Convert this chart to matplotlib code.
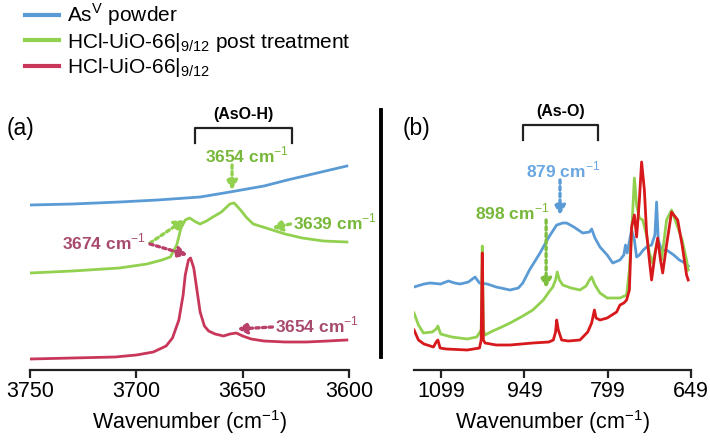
import numpy as np
import matplotlib
matplotlib.use("Agg")
import matplotlib.pyplot as plt
from matplotlib.lines import Line2D

plt.rcParams['font.family'] = ['Liberation Sans', 'DejaVu Sans']
plt.rcParams['mathtext.fontset'] = 'custom'
plt.rcParams['mathtext.rm'] = 'Liberation Sans'
plt.rcParams['mathtext.bf'] = 'Liberation Sans:bold'

# ---- data (a): O-H region, intensity in arbitrary offset units
wn_a_blue = [3750, 3730, 3708, 3690, 3670, 3656, 3640, 3629, 3615, 3601]
y_a_blue = [165, 166, 168, 170, 173, 178, 184, 190, 197, 204]

wn_a_green = [3750, 3730, 3708, 3695, 3688, 3684, 3681, 3679, 3677, 3675, 3672, 3670, 3667,
              3664, 3660, 3656, 3654, 3651, 3648, 3645, 3642, 3636, 3630, 3622, 3612, 3601]
y_a_green = [97, 99, 102, 106, 110, 113, 125, 142, 150, 152, 148, 146, 149,
             153, 158, 166, 167, 160, 152, 146, 144, 140, 136, 132, 129, 128]

wn_a_red = [3750, 3730, 3710, 3700, 3692, 3686, 3683, 3680, 3678, 3677, 3675.5, 3674.5, 3673,
            3671.5, 3670, 3668, 3666, 3663, 3659, 3656, 3653, 3650, 3646, 3640, 3630, 3620, 3610, 3601]
y_a_red = [11, 12, 13, 15, 18, 24, 32, 50, 75, 95, 110, 112, 102,
           80, 58, 44, 39, 36, 34, 36, 37, 34, 31, 29, 28, 28, 29, 30]

# ---- data (b): As-O region
wn_b_blue = [1148, 1130, 1119, 1100, 1086, 1075, 1065, 1050, 1038, 1030, 1016, 1000, 975, 960,
             952, 940, 921, 905, 891, 880, 873, 860, 844, 832, 828, 822, 813, 800, 790, 777,
             770, 767, 764, 756, 751, 747, 742, 735, 729, 720, 714, 711, 708, 702, 693, 680,
             670, 660, 654]
y_b_blue = [83, 86, 87, 86, 89, 87, 86, 88, 93, 87, 86, 83, 80, 82,
            87, 100, 117, 133, 145, 147, 147, 143, 137, 138, 141, 132, 123, 115, 107, 110,
            115, 125, 117, 140, 130, 113, 115, 120, 123, 125, 135, 168, 130, 120, 120, 115,
            110, 107, 104]

wn_b_green = [1148, 1140, 1131, 1115, 1108, 1105, 1100, 1080, 1052, 1035, 1027, 1025, 1023, 1020,
              1010, 990, 975, 955, 934, 915, 905, 898, 893, 890, 886, 880, 865, 849, 838, 832,
              828, 822, 813, 800, 777, 765, 760, 756, 751, 747, 742, 736, 729, 724, 718, 709,
              702, 693, 684, 673, 665, 657, 654]
y_b_green = [57, 45, 37, 38, 41, 44, 36, 33, 31, 33, 40, 124, 40, 35,
             38, 43, 47, 53, 60, 70, 78, 83, 90, 98, 90, 85, 82, 80, 84, 90,
             93, 85, 77, 72, 72, 75, 100, 137, 192, 165, 152, 150, 135, 117, 107, 130,
             110, 150, 160, 143, 130, 110, 100]

wn_b_red = [1148, 1140, 1130, 1113, 1108, 1105, 1101, 1090, 1052, 1030, 1027, 1025, 1023, 1020,
            1000, 975, 934, 905, 897, 893, 891, 888, 882, 870, 849, 835, 828, 823, 820, 813,
            800, 783, 777, 770, 765, 760, 756, 751, 747, 742, 738, 733, 729, 724, 720, 714,
            709, 704, 700, 693, 684, 673, 665, 657, 654]
y_b_red = [40, 30, 26, 23, 28, 30, 22, 21, 20, 22, 30, 117, 30, 27,
           25, 25, 27, 28, 30, 38, 50, 40, 30, 29, 30, 38, 47, 60, 52, 50,
           52, 58, 65, 67, 70, 80, 143, 155, 133, 170, 208, 180, 137, 110, 90, 115,
           132, 110, 97, 125, 158, 150, 125, 95, 90]

labels = ["As$^{\\mathrm{V}}$ powder",
          "HCl-UiO-66|$_{\\mathrm{9/12}}$ post treatment",
          "HCl-UiO-66|$_{\\mathrm{9/12}}$"]
ticks_a = [3750, 3700, 3650, 3600]
ticks_b = [1099, 949, 799, 649]

blue = '#5b9bd5'
green = '#92d050'
red_a = '#c8375a'
red_b = '#d7191c'
txt_green = '#77b83a'
txt_red = '#a84a6e'
txt_blue = '#6aa7e0'

fig = plt.figure(figsize=(7.1, 4.44), dpi=100)
axa = fig.add_axes([30/710, 74/444, 319/710, 270/444])
axb = fig.add_axes([414/710, 74/444, 277/710, 270/444])

lw = 2.0
axa.plot(wn_a_blue, y_a_blue, color=blue, lw=lw)
axa.plot(wn_a_green, y_a_green, color=green, lw=lw)
axa.plot(wn_a_red, y_a_red, color=red_a, lw=lw)
axb.plot(wn_b_blue, y_b_blue, color=blue, lw=lw)
axb.plot(wn_b_green, y_b_green, color=green, lw=lw)
axb.plot(wn_b_red, y_b_red, color=red_b, lw=lw)

axa.set_xlim(3750, 3600)
axb.set_xlim(1148, 649)
for ax, tk in [(axa, ticks_a), (axb, ticks_b)]:
    ax.set_ylim(0, 270)
    ax.set_xticks(tk)
    ax.set_yticks([])
    ax.patch.set_alpha(0)
    for s in ['top', 'right', 'left']:
        ax.spines[s].set_visible(False)
    ax.spines['bottom'].set_linewidth(1.6)
    ax.spines['bottom'].set_color('#222222')
    ax.tick_params(axis='x', direction='out', length=6, width=1.6, color='#222222',
                   labelsize=15.5, pad=2)
    ax.set_xlabel("Wavenumber (cm$^{-1}$)", fontsize=15.5, labelpad=4)

# vertical separator line of panel (b)
axb.spines['left'].set_visible(True)
axb.spines['left'].set_position(('outward', 24))
axb.spines['left'].set_bounds(13, 260)
axb.spines['left'].set_linewidth(2.8)
axb.spines['left'].set_color('black')

# legend
handles = [Line2D([], [], color=c, lw=3) for c in [blue, green, red_a]]
fig.legend(handles, labels, loc='upper left', bbox_to_anchor=(0.024, 1.015), frameon=False,
           fontsize=15, handlelength=1.6, handletextpad=0.4, labelspacing=0.12,
           borderaxespad=0)

fig.text(20/710, 1 - 128/444, "(a)", fontsize=16.5, ha='center', va='center')
fig.text(416/710, 1 - 128/444, "(b)", fontsize=16.5, ha='center', va='center')

# bracket annotations
def bracket(ax, x0, x1, y, label):
    ax.plot([x0, x0, x1, x1], [y - 15, y, y, y - 15], color='#222222', lw=1.6, clip_on=False)
    ax.text((x0 + x1) / 2, y + 6, label, fontsize=11.5, fontweight='bold',
            ha='center', va='bottom')

bracket(axa, 3672.4, 3626.8, 242, "(AsO-H)")
bracket(axb, 952, 817, 245, "(As-O)")

def arrow(ax, xy_from, xy_to, color):
    ax.annotate("", xy=xy_to, xytext=xy_from,
                arrowprops=dict(arrowstyle='-|>,head_length=0.55,head_width=0.32',
                                color=color, lw=2.4, linestyle=(0, (1, 1)),
                                shrinkA=0, shrinkB=0))

tfs = 12.5
axa.text(3648, 215, "3654 cm$^{-1}$", color=txt_green, fontsize=tfs, fontweight='bold',
         ha='center', va='center')
arrow(axa, (3655, 205), (3655, 180), green)
axa.text(3626.3, 148, "3639 cm$^{-1}$", color=txt_green, fontsize=tfs, fontweight='bold',
         ha='left', va='center')
arrow(axa, (3627.5, 146), (3636, 142), green)
axa.text(3695.5, 128, "3674 cm$^{-1}$", color=txt_red, fontsize=tfs, fontweight='bold',
         ha='right', va='center')
arrow(axa, (3693.6, 127), (3677.5, 150), green)
arrow(axa, (3693.6, 126), (3676, 115), '#b8406a')
axa.text(3634.8, 45, "3654 cm$^{-1}$", color=txt_red, fontsize=tfs, fontweight='bold',
         ha='left', va='center')
arrow(axa, (3636, 43), (3652.5, 41), '#b8406a')

axb.text(880, 200, "879 cm$^{-1}$", color=txt_blue, fontsize=tfs, fontweight='bold',
         ha='center', va='center')
arrow(axb, (885, 190), (885, 155), blue)
axb.text(971, 158, "898 cm$^{-1}$", color=txt_green, fontsize=tfs, fontweight='bold',
         ha='center', va='center')
arrow(axb, (910, 150), (910, 82), '#7fbf3f')

fig.savefig("out.png", dpi=100)
